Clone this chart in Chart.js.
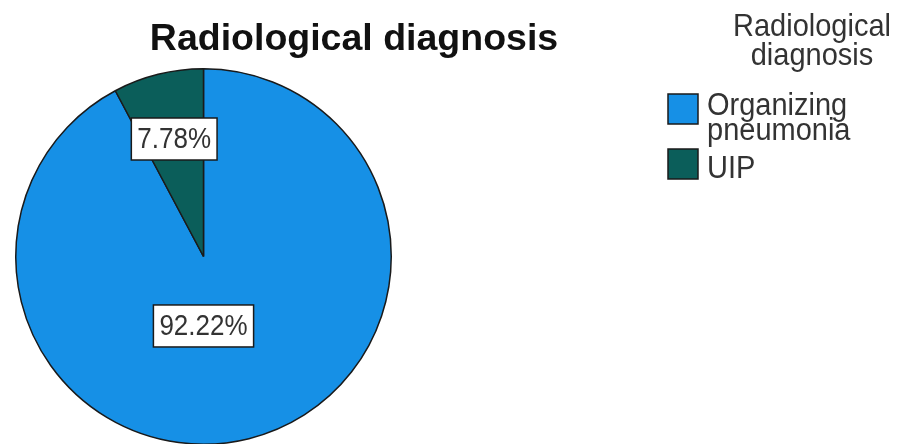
<!DOCTYPE html>
<html>
<head>
<meta charset="utf-8">
<script src="https://cdn.jsdelivr.net/npm/chart.js@4.4.1/dist/chart.umd.min.js"></script>
<style>
  html, body { margin: 0; padding: 0; background: #fff; overflow: hidden; }
  #wrap { position: relative; width: 899px; height: 444px; overflow: hidden; }
  #pie { position: absolute; left: 0; top: 0; }
</style>
</head>
<body>
<div id="wrap"><canvas id="pie" width="899" height="460"></canvas></div>
<script>
// chart values
let chartTitle = 'Radiological diagnosis';
let legendTitle = ['Radiological', 'diagnosis'];
let categories = ['Organizing pneumonia', 'UIP'];
let legendLines = [['Organizing', 'pneumonia'], ['UIP']];
let percentages = [92.22, 7.78];
let sliceColors = ['#1690e6', '#0b5e5a'];

const FONT = '"Liberation Sans", Arial, sans-serif';
const INK = '#1a1a1a';

// where each value box sits: angle in degrees (null = middle of the slice), r = share of radius
const labelSpots = [{ angle: 90, r: 0.37 }, { angle: null, r: 0.645 }];

function stretchedText(ctx, text, x, y, sy) {
  ctx.save();
  ctx.translate(x, y);
  ctx.scale(1, sy);
  ctx.fillText(text, 0, 0);
  ctx.restore();
}

// percent boxes on the slices
const valueBoxes = {
  id: 'valueBoxes',
  afterDatasetsDraw(chart) {
    const ctx = chart.ctx;
    const arcs = chart.getDatasetMeta(0).data;
    arcs.forEach((arc, i) => {
      const p = arc.getProps(['x', 'y', 'startAngle', 'endAngle', 'outerRadius'], true);
      const spot = labelSpots[i];
      const a = spot.angle === null ? (p.startAngle + p.endAngle) / 2 : spot.angle * Math.PI / 180;
      const cx = p.x + Math.cos(a) * p.outerRadius * spot.r;
      const cy = p.y + Math.sin(a) * p.outerRadius * spot.r;
      const text = percentages[i].toFixed(2) + '%';
      ctx.save();
      ctx.font = '26px ' + FONT;
      const w = ctx.measureText(text).width + 12;
      const h = 42;
      ctx.fillStyle = '#fff';
      ctx.strokeStyle = INK;
      ctx.lineWidth = 1.5;
      ctx.fillRect(cx - w / 2, cy - h / 2, w, h);
      ctx.strokeRect(cx - w / 2, cy - h / 2, w, h);
      ctx.fillStyle = '#333';
      ctx.textAlign = 'center';
      ctx.textBaseline = 'alphabetic';
      stretchedText(ctx, text, cx, cy + 9, 1.13);
      ctx.restore();
    });
  }
};

// title and the legend at the right
const sideTexts = {
  id: 'sideTexts',
  afterDraw(chart) {
    const ctx = chart.ctx;
    ctx.save();
    ctx.fillStyle = '#111';
    ctx.textAlign = 'center';
    ctx.textBaseline = 'alphabetic';
    ctx.font = 'bold 37.5px ' + FONT;
    ctx.fillText(chartTitle, 354, 50);

    ctx.fillStyle = '#333';
    ctx.font = '29px ' + FONT;
    stretchedText(ctx, legendTitle[0], 812, 36, 1.05);
    stretchedText(ctx, legendTitle[1], 812, 65, 1.05);

    ctx.textAlign = 'left';
    ctx.font = '29px ' + FONT;
    const swatchTops = [94, 149];
    const firstBase = [115, 178];
    categories.forEach((c, i) => {
      ctx.fillStyle = sliceColors[i];
      ctx.fillRect(668, swatchTops[i], 30, 30);
      ctx.strokeStyle = INK;
      ctx.lineWidth = 1.5;
      ctx.strokeRect(668, swatchTops[i], 30, 30);
      ctx.fillStyle = '#333';
      legendLines[i].forEach((line, j) => {
        stretchedText(ctx, line, 707, firstBase[i] + j * 25, 1.1);
      });
    });
    ctx.restore();
  }
};

const ctx = document.getElementById('pie').getContext('2d');
const pieChart = new Chart(ctx, {
  type: 'pie',
  data: {
    labels: categories,
    datasets: [{
      data: percentages,
      backgroundColor: sliceColors,
      borderColor: INK,
      borderWidth: 1.5
    }]
  },
  options: {
    responsive: false,
    animation: false,
    layout: { padding: { left: 15, right: 507, top: 68, bottom: 15 } },
    plugins: {
      legend: { display: false },
      tooltip: { enabled: false },
      title: { display: false }
    }
  },
  plugins: [valueBoxes, sideTexts]
});
</script>
</body>
</html>
